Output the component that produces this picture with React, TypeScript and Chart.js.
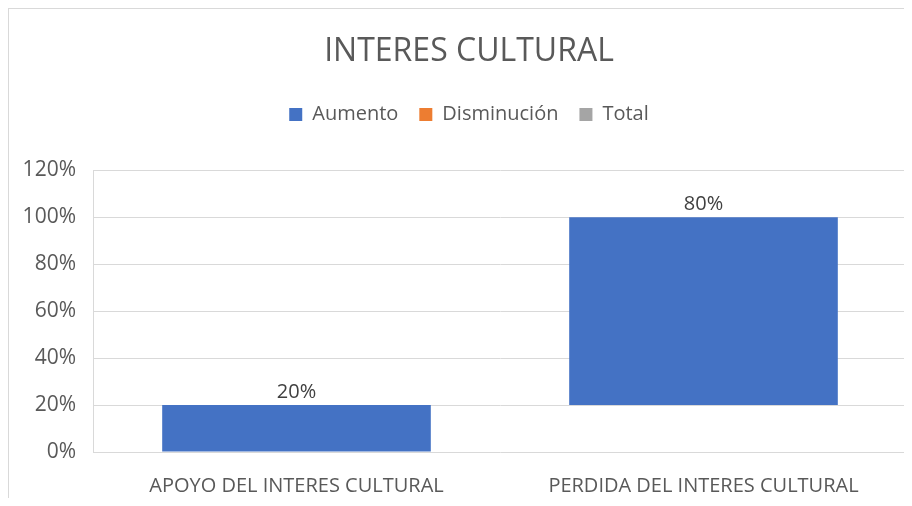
import React, { useEffect, useRef } from "react";
import { Chart, registerables } from "chart.js";

Chart.register(...registerables);

const categories = ["APOYO DEL INTERES CULTURAL", "PERDIDA DEL INTERES CULTURAL"];
const changes = [0.2, 0.8];
const seriesNames = ["Aumento", "Disminución", "Total"];
const seriesColors = ["#4472C4", "#ED7D31", "#A5A5A5"];
const yTicks = [0, 0.2, 0.4, 0.6, 0.8, 1.0, 1.2];

const FONT = "'Open Sans', sans-serif";

function pct(v: number) {
  return Math.round(v * 100) + "%";
}

export default function App() {
  const ref = useRef<HTMLCanvasElement | null>(null);

  useEffect(() => {
    if (!ref.current) return;
    let run = 0;
    const floating = changes.map((c) => {
      const start = run;
      run += c;
      return [start, run] as [number, number];
    });

    const labelPlugin = {
      id: "wfLabels",
      afterInit(chart: any) {
        const lg = chart.legend;
        if (lg && !lg.__patched) {
          const orig = lg.fit.bind(lg);
          lg.fit = function () {
            orig();
            this.height += 36;
          };
          lg.__patched = true;
        }
      },
      afterLayout(chart: any) {
        const shift = 11;
        const t = chart.titleBlock;
        if (t) {
          t.left += shift;
          t.right += shift;
        }
        const lg = chart.legend;
        if (lg) {
          lg.left += shift;
          lg.right += shift;
        }
      },
      afterDatasetsDraw(chart: any) {
        const ctx = chart.ctx;
        const meta = chart.getDatasetMeta(0);
        ctx.save();
        ctx.font = "20px " + FONT;
        ctx.fillStyle = "#404040";
        ctx.textAlign = "center";
        ctx.textBaseline = "alphabetic";
        meta.data.forEach((bar: any, i: number) => {
          const top = Math.min(bar.y, bar.base);
          ctx.fillText(pct(changes[i]), bar.x, top - 7);
        });
        ctx.restore();
      },
    };

    const chart = new Chart(ref.current, {
      type: "bar",
      data: {
        labels: categories,
        datasets: [
          {
            label: seriesNames[0],
            data: floating as any,
            backgroundColor: seriesColors[0],
            borderWidth: 0,
            categoryPercentage: 1,
            barPercentage: 0.66,
            grouped: false,
          } as any,
          {
            label: seriesNames[1],
            data: [],
            backgroundColor: seriesColors[1],
            grouped: false,
          } as any,
          {
            label: seriesNames[2],
            data: [],
            backgroundColor: seriesColors[2],
            grouped: false,
          } as any,
        ],
      },
      options: {
        animation: false,
        responsive: true,
        maintainAspectRatio: false,
        layout: { padding: { left: 0, right: 5, top: 24, bottom: 8 } },
        plugins: {
          title: {
            display: true,
            text: "INTERES CULTURAL",
            color: "#595959",
            font: { family: FONT, size: 32, weight: "normal" as any },
            padding: { top: 0, bottom: 12 },
          },
          legend: {
            display: true,
            labels: {
              color: "#595959",
              font: { family: FONT, size: 20 },
              boxWidth: 13,
              boxHeight: 13,
              padding: 21,
            },
          },
          tooltip: { enabled: false },
        },
        scales: {
          x: {
            grid: { display: false, drawTicks: false },
            border: { display: false },
            afterFit: (scale: any) => {
              scale.height = 46;
            },
            ticks: {
              color: "#595959",
              font: { family: FONT, size: 20 },
              padding: 22,
            },
          },
          y: {
            min: 0,
            max: 1.2,
            afterBuildTicks: (scale: any) => {
              scale.ticks = yTicks.map((v) => ({ value: v }));
            },
            afterFit: (scale: any) => {
              scale.width = 84;
            },
            grid: { color: "#d9d9d9", drawTicks: false, lineWidth: 1 },
            border: { display: true, color: "#d9d9d9" },
            ticks: {
              color: "#595959",
              font: { family: FONT, size: 21 },
              padding: 17,
              callback: (v: any) => pct(Number(v)),
            },
          },
        },
      },
      plugins: [labelPlugin],
    });
    return () => chart.destroy();
  }, []);

  return (
    <div
      style={{
        width: 904,
        height: 498,
        marginBottom: -8,
        boxSizing: "border-box",
        borderLeft: "1px solid #d9d9d9",
        borderTop: "1px solid #d9d9d9",
        background: "#fff",
        position: "relative",
        overflow: "hidden",
      }}
    >
      <canvas ref={ref} style={{ display: "block" }} />
    </div>
  );
}
